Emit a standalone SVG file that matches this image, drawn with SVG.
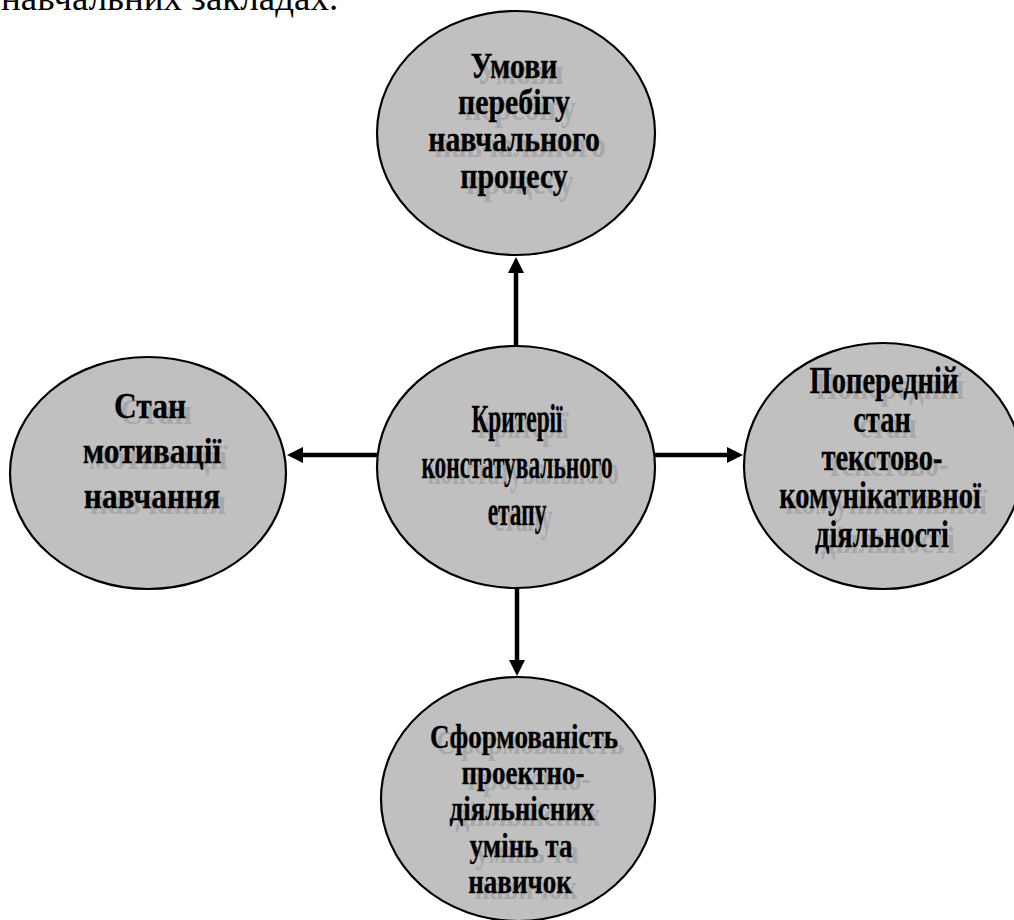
<svg xmlns="http://www.w3.org/2000/svg" xmlns:xlink="http://www.w3.org/1999/xlink" width="1014" height="920" viewBox="0 0 1014 920">
<style>
.bg{fill:#ffffff}
.node{fill:#c0c0c0;stroke:#000;stroke-width:2.2}
.t{font-family:"Liberation Serif","Times New Roman",serif;font-weight:bold;text-anchor:middle}
.sh{fill:#a8a8a8}
.fg{fill:#000;stroke:#000;stroke-width:0.3}
.conn{stroke:#000;stroke-width:4.5;fill:none}
.hdr{font-family:"Liberation Serif","Times New Roman",serif;font-size:37px;fill:#000}
</style>
<defs>
<marker id="arr" markerUnits="userSpaceOnUse" markerWidth="16" markerHeight="16" viewBox="0 0 16 16" refX="1" refY="8" orient="auto">
<path d="M0,0 L16,8 L0,16 z" fill="#000"/>
</marker>
<g id="txtTop" class="t" font-size="36">
<text transform="translate(514,78) scale(0.83,1)">Умови</text>
<text transform="translate(514,114) scale(0.83,1)">перебігу</text>
<text transform="translate(514,151) scale(0.83,1)">навчального</text>
<text transform="translate(514,188) scale(0.83,1)">процесу</text>
</g>
<g id="txtCenter" class="t" font-size="41">
<text transform="translate(517,432) scale(0.57,1)">Критерії</text>
<text transform="translate(517,478) scale(0.57,1)">констатувального</text>
<text transform="translate(517,525) scale(0.57,1)">етапу</text>
</g>
<g id="txtLeft" class="t" font-size="35">
<text transform="translate(150,418) scale(0.9,1)">Стан</text>
<text transform="translate(152,463) scale(0.9,1)">мотивації</text>
<text transform="translate(152,508) scale(0.9,1)">навчання</text>
</g>
<g id="txtRight" class="t" font-size="38">
<text transform="translate(884,393) scale(0.75,1)">Попередній</text>
<text transform="translate(882,432) scale(0.75,1)">стан</text>
<text transform="translate(882,470) scale(0.75,1)">текстово-</text>
<text transform="translate(880,508) scale(0.75,1)">комунікативної</text>
<text transform="translate(882,547) scale(0.75,1)">діяльності</text>
</g>
<g id="txtBottom" class="t" font-size="33">
<text transform="translate(524,748) scale(0.82,1)">Сформованість</text>
<text transform="translate(523,784) scale(0.82,1)">проектно-</text>
<text transform="translate(522,820) scale(0.82,1)">діяльнісних</text>
<text transform="translate(521,857) scale(0.82,1)">умінь та</text>
<text transform="translate(520,893) scale(0.82,1)">навичок</text>
</g>
</defs>
<rect class="bg" x="0" y="0" width="1014" height="920"/>
<text class="hdr" x="1" y="10">навчальних закладах.</text>
<g id="connectors">
<line class="conn" x1="516" y1="346" x2="516" y2="272" marker-end="url(#arr)"/>
<line class="conn" x1="517" y1="589" x2="517" y2="661" marker-end="url(#arr)"/>
<line class="conn" x1="378" y1="455" x2="302" y2="455" marker-end="url(#arr)"/>
<line class="conn" x1="655" y1="455" x2="728" y2="455" marker-end="url(#arr)"/>
</g>
<g id="node-top">
<ellipse class="node" cx="516" cy="133" rx="139" ry="122"/>
<use href="#txtTop" class="sh" transform="translate(6,6)"/>
<use href="#txtTop" class="fg"/>
</g>
<g id="node-center">
<ellipse class="node" cx="516" cy="467" rx="139" ry="121"/>
<use href="#txtCenter" class="sh" transform="translate(6,6)"/>
<use href="#txtCenter" class="fg"/>
</g>
<g id="node-left">
<ellipse class="node" cx="148" cy="473" rx="138" ry="116"/>
<use href="#txtLeft" class="sh" transform="translate(6,6)"/>
<use href="#txtLeft" class="fg"/>
</g>
<g id="node-right">
<ellipse class="node" cx="883" cy="466" rx="139" ry="123"/>
<use href="#txtRight" class="sh" transform="translate(6,6)"/>
<use href="#txtRight" class="fg"/>
</g>
<g id="node-bottom">
<ellipse class="node" cx="518" cy="799" rx="137" ry="122"/>
<use href="#txtBottom" class="sh" transform="translate(6,6)"/>
<use href="#txtBottom" class="fg"/>
</g>
</svg>
